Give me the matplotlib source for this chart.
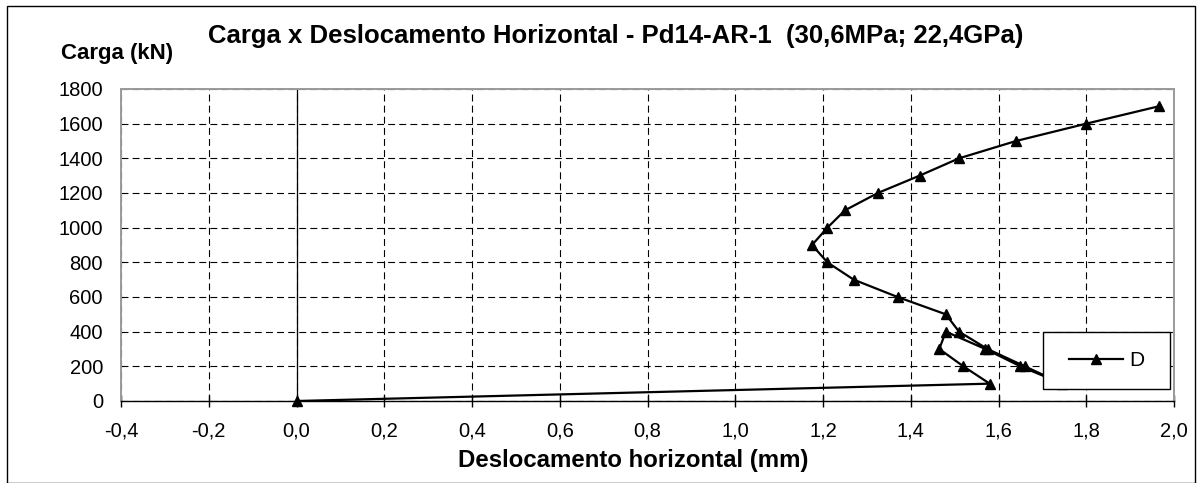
import matplotlib
matplotlib.use("Agg")
import matplotlib.pyplot as plt
from matplotlib.patches import Rectangle

plt.rcParams['font.family'] = ['Liberation Sans', 'DejaVu Sans']
plt.rcParams['lines.scale_dashes'] = False

# Load steps (kN) and horizontal displacement (mm) for series D
carga = [0, 100, 200, 300, 400, 300, 200, 100, 200, 300, 400, 500, 600,
         700, 800, 900, 1000, 1100, 1200, 1300, 1400, 1500, 1600, 1700]
desloc = [0.0, 1.58, 1.52, 1.465, 1.48, 1.57, 1.65, 1.745, 1.66, 1.575, 1.51,
          1.48, 1.37, 1.27, 1.21, 1.175, 1.21, 1.25, 1.325, 1.42, 1.51, 1.64,
          1.80, 1.965]
serie = "D"

x_ticks = [-0.4, -0.2, 0.0, 0.2, 0.4, 0.6, 0.8, 1.0, 1.2, 1.4, 1.6, 1.8, 2.0]
y_ticks = list(range(0, 1801, 200))

W, H = 1202, 483
fig = plt.figure(figsize=(W / 100, H / 100), dpi=100)
fig.patch.set_facecolor("white")

# plot area in pixel bounds
left, right, top, bottom = 121, 1174, 89, 401
ax = fig.add_axes([left / W, 1 - bottom / H, (right - left) / W, (bottom - top) / H])

ax.set_xlim(-0.4, 2.0)
ax.set_ylim(0, 1800)
ax.set_xticks(x_ticks)
ax.set_yticks(y_ticks)
ax.set_xticklabels([f"{v:.1f}".replace(".", ",") for v in x_ticks], fontsize=14.5)
ax.set_yticklabels([str(v) for v in y_ticks], fontsize=14.5)
ax.tick_params(axis="x", direction="inout", length=8, width=1, color="black", pad=11)
ax.tick_params(axis="y", length=0, pad=13)

dash = (0, (5.0, 3.0))
ax.grid(True, color="black", linestyle=dash, linewidth=0.8)
ax.set_axisbelow(True)

for s in ("top", "right", "left"):
    ax.spines[s].set_color("#9a9a9a")
    ax.spines[s].set_linewidth(1.4)
ax.spines["bottom"].set_color("black")
ax.spines["bottom"].set_linewidth(1.0)

# value axis crossing at zero
ax.axvline(0.0, color="black", linewidth=0.9, zorder=1.5)

ax.plot(desloc, carga, color="black", linewidth=1.6, marker="^",
        markersize=7.5, markerfacecolor="black", markeredgecolor="black",
        label=serie, zorder=3, clip_on=False)

# legend box
lx0, ly0, lx1, ly1 = 1043, 332, 1170, 389
box = Rectangle((lx0 / W, 1 - ly1 / H), (lx1 - lx0) / W, (ly1 - ly0) / H,
                transform=fig.transFigure, facecolor="white", edgecolor="black",
                linewidth=1.0, zorder=4.5, clip_on=False)
ax.add_patch(box)
leg = ax.legend(loc="center", bbox_to_anchor=((lx0 + lx1) / 2 / W, 1 - (ly0 + ly1) / 2 / H),
                bbox_transform=fig.transFigure, frameon=False, fontsize=15,
                handlelength=2.6, handletextpad=0.3, borderpad=0)
leg.set_zorder(5)

fig.text(616 / W, 1 - 36 / H, "Carga x Deslocamento Horizontal - Pd14-AR-1  (30,6MPa; 22,4GPa)",
         ha="center", va="center", fontsize=18.5, fontweight="bold")
fig.text(61 / W, 1 - 53 / H, "Carga (kN)", ha="left", va="center",
         fontsize=16, fontweight="bold")
fig.text(633 / W, 1 - 461 / H, "Deslocamento horizontal (mm)", ha="center",
         va="center", fontsize=17.3, fontweight="bold")

# chart outline
fig.add_artist(Rectangle((7 / W, 0), (1195 - 7) / W, 1 - 6 / H, transform=fig.transFigure,
                         facecolor="none", edgecolor="black", linewidth=1.0))

fig.savefig("out.png", dpi=100)
